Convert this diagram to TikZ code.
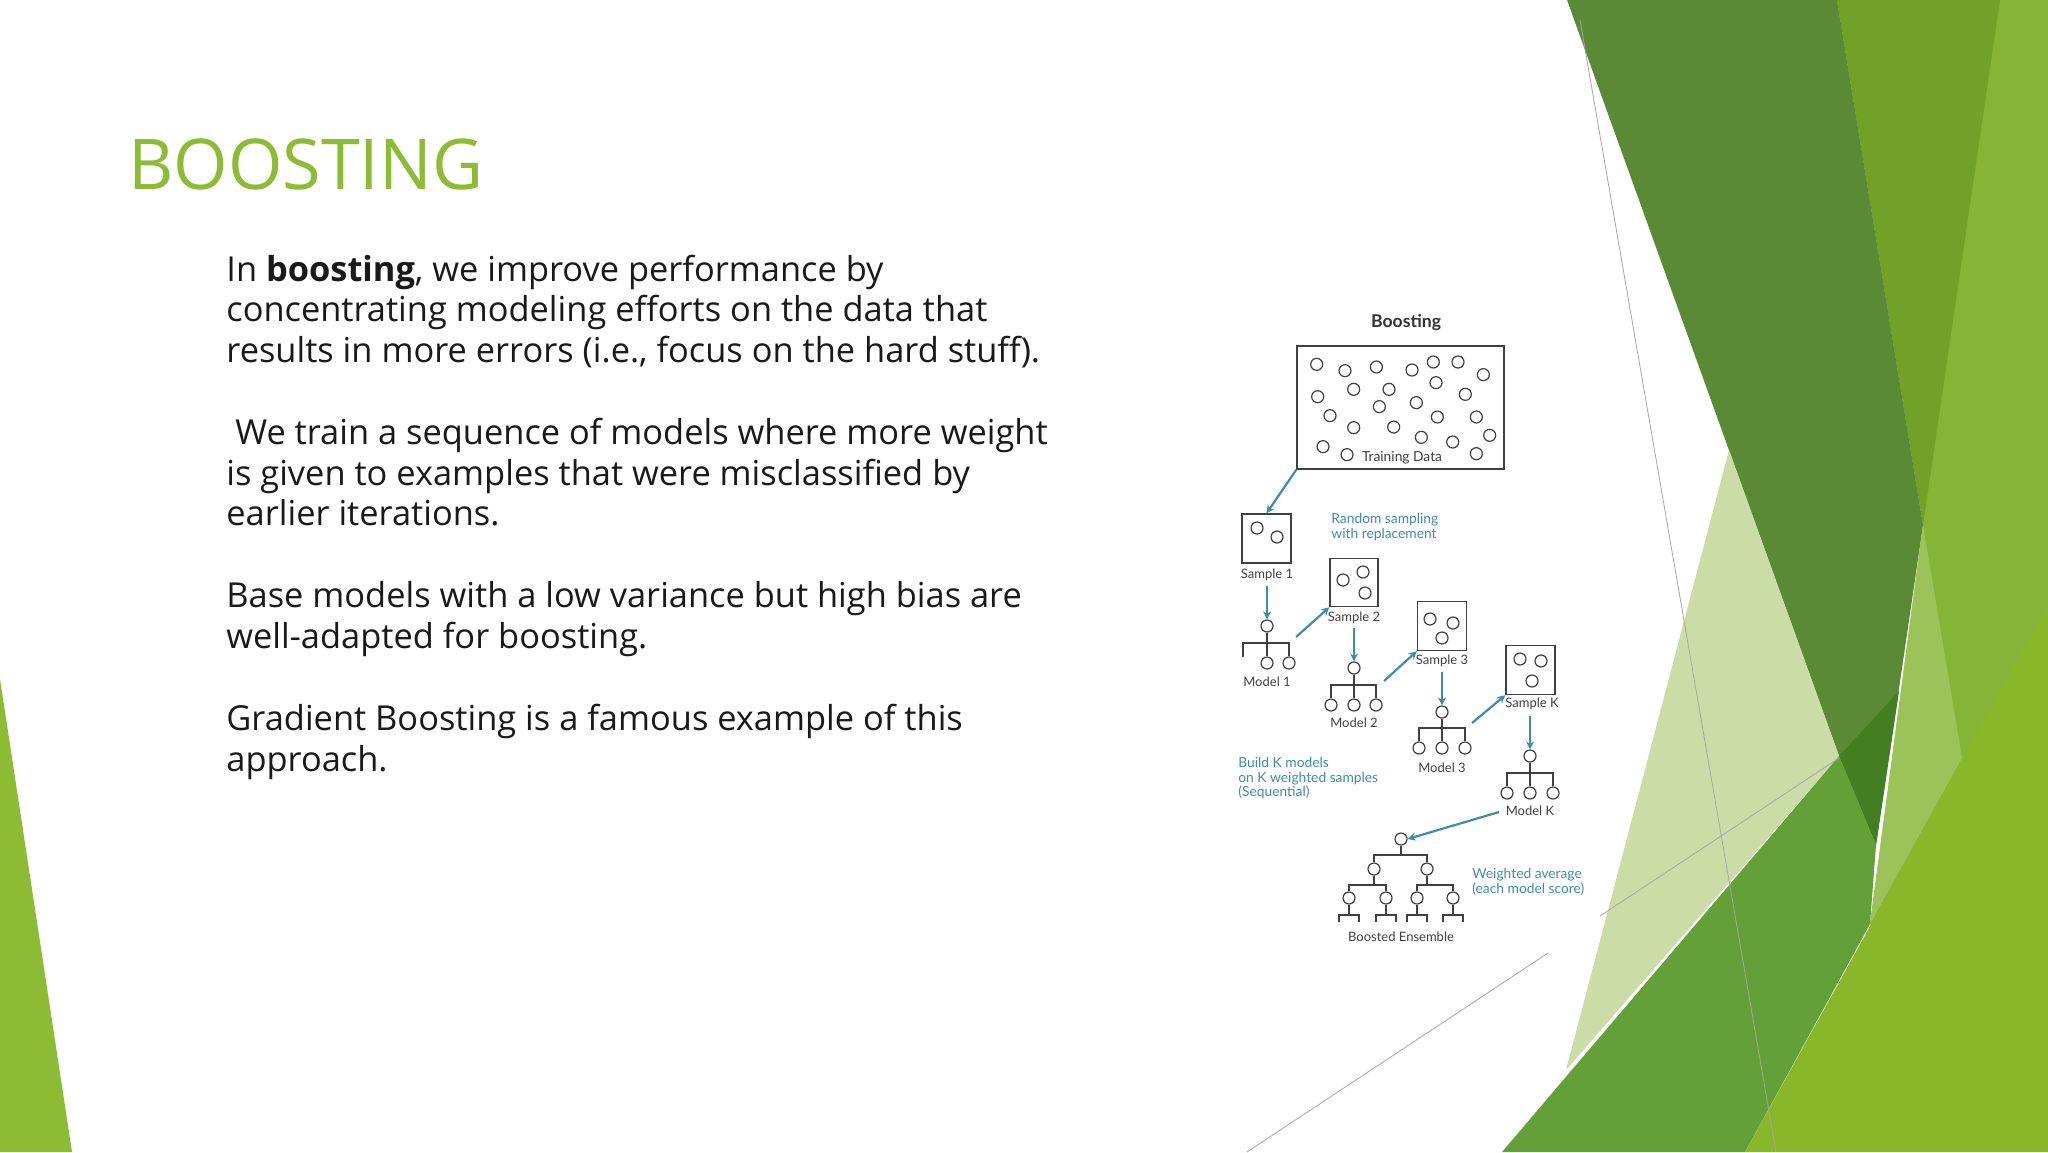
\documentclass[tikz,border=0pt]{standalone}
\usepackage{fontspec}
\setmainfont{Open Sans}
\newfontfamily\diag{Lato}
\usetikzlibrary{arrows.meta}
\definecolor{ttl}{HTML}{8CBB34}
\definecolor{teal}{HTML}{3F8CB0}
\definecolor{dk}{HTML}{5B8A37}
\definecolor{dkk}{HTML}{437F22}
\definecolor{md}{HTML}{72A128}
\definecolor{lt}{HTML}{86B436}
\definecolor{lband}{HTML}{9BC35A}
\definecolor{lime}{HTML}{88B82A}
\definecolor{bgm}{HTML}{64A038}
\definecolor{pale}{HTML}{CBDDA6}
\tikzset{
 body/.style={anchor=base west,font=\fontsize{17.2}{20}\selectfont,text=black!90,inner sep=0},
 dot/.style={circle,draw=black!75,line width=0.6pt,minimum size=6pt,inner sep=0},
 box/.style={draw=black!75,line width=0.7pt},
 lab/.style={font=\diag\fontsize{6.5}{7}\selectfont,text=black!75,inner sep=0},
 tlab/.style={font=\diag\fontsize{6.9}{7.3}\selectfont,text=teal,inner sep=0,anchor=north west,align=left},
 arr/.style={draw=teal,line width=1.1pt,-{Stealth[length=4pt,width=4pt]}},
 tr/.style={draw=black!75,line width=0.6pt},
 gl/.style={draw=black!35,line width=0.4pt}
}
\begin{document}
\begin{tikzpicture}[x=0.5pt,y=-0.5pt]
\useasboundingbox (0,0) rectangle (2048,1152);
\fill[white] (0,0) rectangle (2048,1152);
% background shapes
\fill[lt] (1837,0) -- (2048,0) -- (2048,1152) -- (1870,924) -- (1923,525) -- cycle;
\fill[md] (1837,0) -- (2000,0) -- (1923,525) -- cycle;
\fill[dk] (1567,0) -- (1837,0) -- (1923,525) -- (1876,845) -- (1839,756) -- cycle;
\fill[dkk] (1839,756) -- (1899,691) -- (1876,845) -- cycle;
\fill[lband] (1923,525) -- (1962,758) -- (1870,924) -- cycle;
\fill[pale] (1729,450) -- (1839,756) -- (1566,1070) -- cycle;
\fill[bgm] (1502,1152) -- (1839,756) -- (1876,845) -- (1870,924) -- (1745,1152) -- cycle;
\fill[lime] (1745,1152) -- (2048,605) -- (2048,1152) -- cycle;
\fill[ttl] (0,679) -- (0,1152) -- (72,1152) -- cycle;
\coordinate (g1) at (1580,20); \coordinate (g2) at (1776,1152);
\coordinate (g3) at (1600,916); \coordinate (g4) at (1839,758);
\coordinate (g5) at (1247,1152); \coordinate (g6) at (1548,953);
\draw[gl] (g1) -- (g2); \draw[gl] (g3) -- (g4); \draw[gl] (g5) -- (g6);
% title & body
\node[anchor=base west,inner sep=0,text=ttl,font=\fontsize{35}{40}\selectfont] (title) at (128,189) {BOOSTING};
\node[body] (l1) at (226,281) {In \textbf{boosting}, we improve performance by};
\node[body] (l2) at (226,321) {concentrating modeling efforts on the data that};
\node[body] (l3) at (226,362) {results in more errors (i.e., focus on the hard stuff).};
\node[body] (l4) at (226,444) {\ We train a sequence of models where more weight};
\node[body] (l5) at (226,485) {is given to examples that were misclassified by};
\node[body] (l6) at (226,525) {earlier iterations.};
\node[body] (l7) at (226,607) {Base models with a low variance but high bias are};
\node[body] (l8) at (226,648) {well-adapted for boosting.};
\node[body] (l9) at (226,730) {Gradient Boosting is a famous example of this};
\node[body] (l10) at (226,771) {approach.};
% diagram
\node[font=\diag\bfseries\fontsize{8.8}{9}\selectfont,text=black!80] (bt) at (1406,323) {Boosting};
\node[box,minimum width=207*0.5pt,minimum height=123*0.5pt,inner sep=0] (td) at (1400.5,407.5) {};
\foreach \x/\y in {290/193,375/212,469/201,576/210,640/186,714/186,790/224,293/290,401/268,507/268,648/248,736/283,478/320,589/308,330/347,652/351,769/351,401/383,521/381,604/412,698/426,809/406,309/440,381/464,769/461}
  \node[dot] at ({1220+\x/3},{300+\y/3}) {};
\node[lab,font=\diag\fontsize{6.9}{7}\selectfont] (tdl) at (1402,458) {Training Data};
% sample 1
\node[box,minimum size=24.5pt,inner sep=0] (s1) at (1266.5,538.5) {};
\node[dot] at (1257,528) {}; \node[dot] at (1277,537) {};
\node[lab] (s1l) at (1267,575) {Sample 1};
\draw[arr] (td.south west) -- (s1.north);
\node[tlab] (rs) at (1331,513) {Random sampling\\with replacement};
% model 1
\coordinate (s1b) at (1267,586);
\node[dot] (m1r) at (1267,626) {};
\draw[arr] (s1b) -- (m1r.north);
\coordinate (m1a) at (1243,643); \coordinate (m1c) at (1289,643);
\node[dot] (m1x) at (1267,663) {}; \node[dot] (m1y) at (1289,663) {};
\coordinate (m1z) at (1243,657);
\draw[tr] (m1r.south) -- (m1x.north) (m1z) -- (m1a) -- (m1c) -- (m1y.north);
\node[lab] (m1l) at (1267,682) {Model 1};
% sample 2
\node[box,minimum size=24pt,inner sep=0] (s2) at (1354,582.5) {};
\node[dot] at (1343,580) {}; \node[dot] at (1363,572) {}; \node[dot] at (1365,593) {};
\node[lab] (s2l) at (1354,618) {Sample 2};
\coordinate (m1o) at (1296,637);
\draw[arr] (m1o) -- (s2.south west);
% model 2
\coordinate (s2b) at (1354,628);
\node[dot] (m2r) at (1354,668) {};
\draw[arr] (s2b) -- (m2r.north);
\foreach \x [count=\i] in {1331,1354,1376} \node[dot] (m2\i) at (\x,705) {};
\draw[tr] (m2r.south) -- (m22.north) (m21.north) -- (1331,685) -- (1376,685) -- (m23.north);
\node[lab] (m2l) at (1354,723) {Model 2};
% sample 3
\node[box,minimum size=24.5pt,inner sep=0] (s3) at (1442,626) {};
\node[dot] at (1430,619) {}; \node[dot] at (1453,623) {}; \node[dot] at (1442,638) {};
\node[lab] (s3l) at (1442,661) {Sample 3};
\coordinate (m2o) at (1384,681);
\draw[arr] (m2o) -- (s3.south west);
% model 3
\coordinate (s3b) at (1442,672);
\node[dot] (m3r) at (1442,712) {};
\draw[arr] (s3b) -- (m3r.north);
\foreach \x [count=\i] in {1419,1442,1465} \node[dot] (m3\i) at (\x,748) {};
\draw[tr] (m3r.south) -- (m32.north) (m31.north) -- (1419,728) -- (1465,728) -- (m33.north);
\node[lab] (m3l) at (1442,768) {Model 3};
% sample K
\node[box,minimum size=24.5pt,inner sep=0] (sk) at (1530.5,670) {};
\node[dot] at (1520,659) {}; \node[dot] at (1541,661) {}; \node[dot] at (1532,681) {};
\node[lab] (skl) at (1532,704) {Sample K};
\coordinate (m3o) at (1472,723);
\draw[arr] (m3o) -- (sk.south west);
% model K
\coordinate (skb) at (1530,716);
\node[dot] (mkr) at (1530,756) {};
\draw[arr] (skb) -- (mkr.north);
\foreach \x [count=\i] in {1507,1530,1553} \node[dot] (mk\i) at (\x,793) {};
\draw[tr] (mkr.south) -- (mk2.north) (mk1.north) -- (1507,773) -- (1553,773) -- (mk3.north);
\node[lab] (mkl) at (1530,811) {Model K};
\node[tlab] (bk) at (1238,757) {Build K models\\on K weighted samples\\(Sequential)};
% ensemble
\node[dot] (er) at (1401,839) {};
\coordinate (mko) at (1499,812);
\draw[arr] (mko) -- (er.east);
\node[dot] (e1) at (1374,869) {}; \node[dot] (e2) at (1427,869) {};
\draw[tr] (er.south) -- (1401,855) (e1.north) -- (1374,855) -- (1427,855) -- (e2.north);
\foreach \x [count=\i] in {1349,1386,1417,1453} \node[dot] (f\i) at (\x,898) {};
\draw[tr] (e1.south) -- (1374,885) (f1.north) -- (1349,885) -- (1386,885) -- (f2.north);
\draw[tr] (e2.south) -- (1427,885) (f3.north) -- (1417,885) -- (1453,885) -- (f4.north);
\foreach \i/\x in {1/1349,2/1386,3/1417,4/1453}
  \draw[tr] (f\i.south) -- (\x,915) (\x-10,922) -- (\x-10,915) -- (\x+10,915) -- (\x+10,922);
\node[lab] (el) at (1401,937) {Boosted Ensemble};
\node[tlab] (wa) at (1472,868) {Weighted average\\(each model score)};
\end{tikzpicture}
\end{document}
